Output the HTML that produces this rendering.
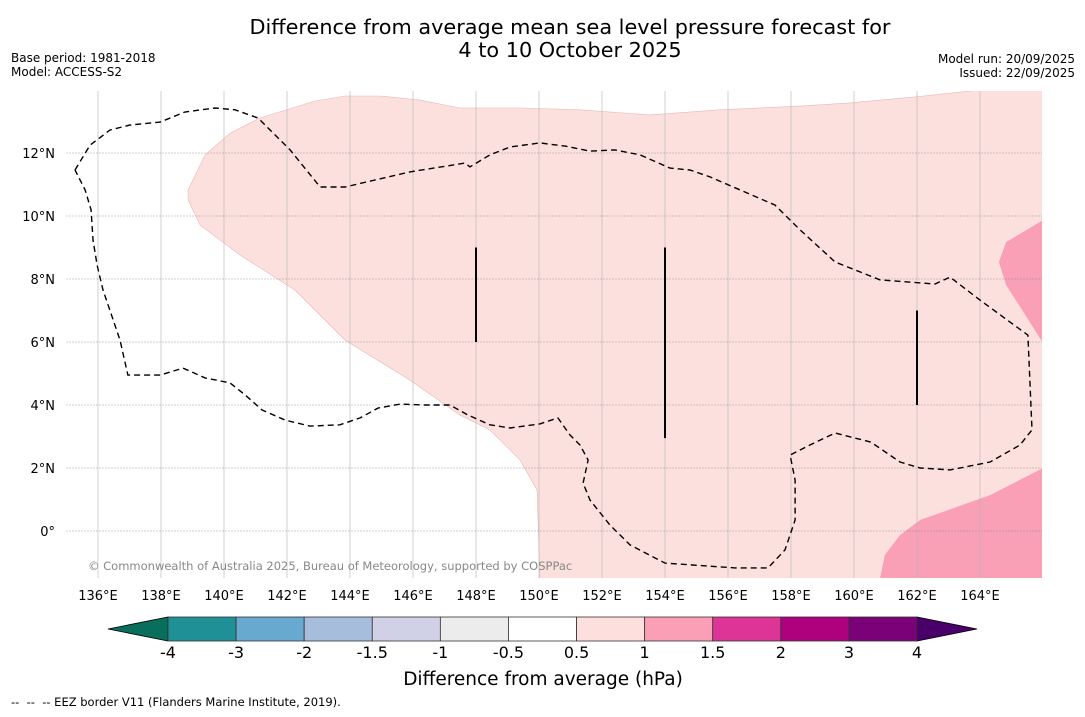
<!DOCTYPE html>
<html><head><meta charset="utf-8"><style>
html,body{margin:0;padding:0;background:#fff;}
body{width:1085px;height:713px;overflow:hidden;font-family:"DejaVu Sans","Liberation Sans",sans-serif;}
</style></head><body>
<svg id="chart" width="1085" height="713" xmlns="http://www.w3.org/2000/svg" font-family="DejaVu Sans, Liberation Sans, sans-serif">
<text x="570" y="34" font-size="20.8" text-anchor="middle">Difference from average mean sea level pressure forecast for</text>
<text x="570" y="57" font-size="20.8" text-anchor="middle">4 to 10 October 2025</text>
<text x="11" y="62" font-size="12">Base period: 1981-2018</text>
<text x="11" y="76" font-size="12">Model: ACCESS-S2</text>
<text x="1075" y="63" font-size="12" text-anchor="end">Model run: 20/09/2025</text>
<text x="1075" y="77" font-size="12" text-anchor="end">Issued: 22/09/2025</text>
<g id="map"></g>
<g id="cbar"></g>
<text x="543" y="685" font-size="18.5" text-anchor="middle">Difference from average (hPa)</text>
<text x="11" y="706" font-size="11.5" xml:space="preserve">--  --  -- EEZ border V11 (Flanders Marine Institute, 2019).</text>
</svg>
<script>
const lonTicks=[136,138,140,142,144,146,148,150,152,154,156,158,160,162,164];
const latTicks=[0,2,4,6,8,10,12];
const level1Region=[[138.86,10.83],[139.40,11.94],[140.19,12.63],[141.14,13.11],[142.89,13.65],[143.84,13.81],[144.95,13.81],[146.22,13.68],[147.49,13.43],[149.40,13.43],[151.30,13.37],[153.52,13.21],[155.75,13.37],[158.29,13.49],[159.87,13.59],[161.94,13.78],[164.0,14.0],[166,14],[166,-1.5],[150.03,-1.5],[149.94,1.30],[149.40,2.25],[148.44,3.21],[147.49,3.68],[145.90,4.79],[143.84,6.06],[142.25,7.65],[140.51,8.76],[139.24,9.71],[138.86,10.51]];
const level2RegionA=[[166,9.87],[164.83,9.17],[164.60,8.54],[164.83,7.81],[166,5.97]];
const level2RegionB=[[166,2.0],[164.32,1.14],[162.10,0.35],[161.46,-0.13],[160.98,-0.76],[160.83,-1.5],[166,-1.5]];
const eezBorder=[[135.27,11.46],[135.75,12.25],[136.38,12.73],[137.02,12.89],[137.97,12.98],[138.76,13.30],[139.71,13.43],[140.35,13.37],[141.08,13.11],[142.10,12.10],[143.05,10.92],[143.84,10.92],[145.90,11.40],[147.65,11.68],[147.81,11.56],[148.44,11.94],[149.08,12.19],[150.03,12.32],[150.83,12.22],[151.62,12.06],[152.41,12.10],[153.21,11.94],[154.16,11.52],[154.79,11.46],[155.43,11.24],[156.38,10.83],[157.49,10.35],[158.29,9.56],[159.40,8.54],[160.83,7.97],[162.57,7.84],[163.05,8.06],[164.0,7.33],[165.52,6.22],[165.65,3.21],[165.27,2.73],[164.32,2.19],[163.05,1.94],[162.10,2.0],[161.46,2.19],[160.67,2.73],[160.51,2.83],[159.40,3.11],[158.60,2.73],[157.97,2.41],[158.13,1.62],[158.13,0.35],[157.81,-0.60],[157.27,-1.17],[156.22,-1.17],[154.0,-1.02],[152.89,-0.44],[152.25,0.19],[151.62,0.98],[151.40,1.52],[151.56,2.25],[151.30,2.73],[150.98,3.05],[150.60,3.59],[150.03,3.40],[149.08,3.27],[148.44,3.37],[147.75,3.68],[147.17,4.0],[146.38,4.0],[145.59,4.03],[144.89,3.90],[144.32,3.59],[143.68,3.37],[142.73,3.33],[141.94,3.52],[141.21,3.84],[140.67,4.32],[140.19,4.70],[139.40,4.86],[138.70,5.17],[137.97,4.95],[136.95,4.95],[136.70,6.06],[136.16,7.65],[135.97,8.44],[135.84,9.24],[135.78,10.19],[135.59,10.83],[135.27,11.46]];
const segLines=[[148,9,6],[154,9,2.95],[162,7,4]];
const cbLevels=["-4","-3","-2","-1.5","-1","-0.5","0.5","1","1.5","2","3","4"];
const cbColors=["#1f9196","#67a9cf","#a6bddb","#d0d1e6","#ececec","#ffffff","#fde0dd","#fa9fb5","#dd3497","#ae017e","#7a0177"];
const cbExtend=["#0a6e5c","#49006a"];

const NS="http://www.w3.org/2000/svg";
const X0=66.5,X1=1042,Y0=91,Y1=578;
function xs(lon){return 98+(lon-136)*31.5;}
function ys(lat){return 531-lat*31.5;}
function mk(t,a,p){const e=document.createElementNS(NS,t);for(const k in a)e.setAttribute(k,a[k]);p.appendChild(e);return e;}
const map=document.getElementById('map');
const defs=mk('defs',{},map);
const cp=mk('clipPath',{id:'clip'},defs);
mk('rect',{x:X0,y:Y0,width:X1-X0,height:Y1-Y0},cp);
const g=mk('g',{'clip-path':'url(#clip)'},map);
function pts(a){return a.map(p=>xs(p[0]).toFixed(1)+','+ys(p[1]).toFixed(1)).join(' ');}
let e=mk('polygon',{points:pts(level1Region),fill:'#fce0de',stroke:'#e8b8b6','stroke-width':0.6},g);

e=mk('polygon',{points:pts(level2RegionA),fill:'#f99fb6'},g);

e=mk('polygon',{points:pts(level2RegionB),fill:'#f99fb6'},g);

lonTicks.forEach(l=>{
 const ln=mk('line',{x1:xs(l),x2:xs(l),y1:Y0,y2:Y1,stroke:'#b4b4b4','stroke-width':0.6},g);
 
 const t=mk('text',{x:xs(l),y:600,'font-size':13,'text-anchor':'middle'},map);
 t.textContent=l+'°E';
 
});
latTicks.forEach(l=>{
 const ln=mk('line',{x1:X0,x2:X1,y1:ys(l),y2:ys(l),stroke:'#888','stroke-width':0.7,'stroke-dasharray':'1,2'},g);
 
 const t=mk('text',{x:55,y:ys(l)+5,'font-size':13,'text-anchor':'end'},map);
 t.textContent=l===0?'0°':l+'°N';
 
});
e=mk('polyline',{points:pts(eezBorder),fill:'none',stroke:'#000','stroke-width':1.4,'stroke-dasharray':'6,4'},g);

segLines.forEach(s=>{
 const l=mk('line',{x1:xs(s[0]),x2:xs(s[0]),y1:ys(s[1]),y2:ys(s[2]),stroke:'#000','stroke-width':2},g);
 
});
e=mk('text',{x:88,y:570,'font-size':11.5,fill:'#888'},map);
e.textContent='© Commonwealth of Australia 2025, Bureau of Meteorology, supported by COSPPac';


const cb=document.getElementById('cbar');
const cx0=168,cx1=917,cy0=617,cy1=641,n=cbColors.length,w=(cx1-cx0)/n;
e=mk('polygon',{points:`${cx0},${cy0} ${cx0},${cy1} 108,629`,fill:cbExtend[0],stroke:'#000','stroke-width':0.8},cb);

e=mk('polygon',{points:`${cx1},${cy0} ${cx1},${cy1} 977,629`,fill:cbExtend[1],stroke:'#000','stroke-width':0.8},cb);

cbColors.forEach((c,i)=>{
 const r=mk('rect',{x:cx0+i*w,y:cy0,width:w,height:cy1-cy0,fill:c,stroke:'#333','stroke-width':0.8},cb);
 
});
cbLevels.forEach((l,i)=>{
 const t=mk('text',{x:cx0+i*w,y:658,'font-size':16,'text-anchor':'middle'},cb);
 t.textContent=l;
 
});
</script>
</body></html>
